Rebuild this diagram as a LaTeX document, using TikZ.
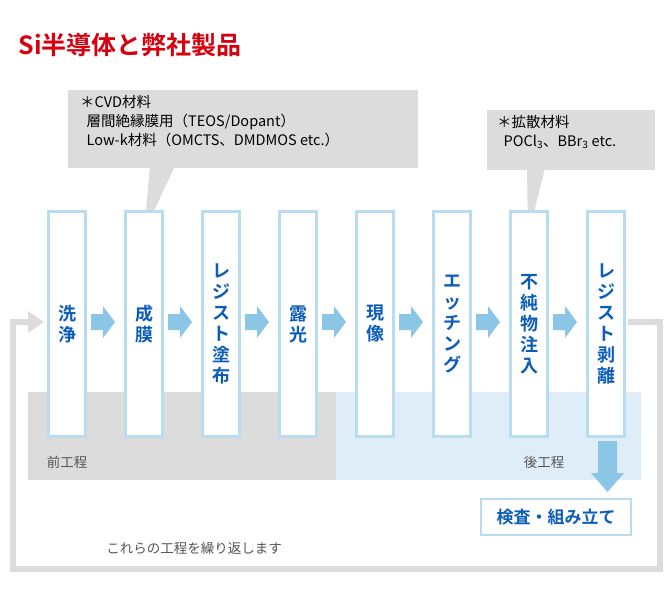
\documentclass[tikz,border=0pt]{standalone}
\usepackage{fontspec}
\setmainfont{Noto Sans CJK JP}
\newfontfamily\jpb{Noto Sans CJK JP Bold}
\definecolor{tred}{HTML}{D7000F}
\definecolor{tblue}{HTML}{0B5DB8}
\definecolor{bedge}{HTML}{B9DCF1}
\definecolor{arr}{HTML}{8CC6E6}
\definecolor{lgray}{HTML}{DCDCDC}
\definecolor{lblue}{HTML}{DFEDF8}
\definecolor{tgray}{HTML}{555555}
\tikzset{stepbox/.style={draw=bedge,line width=2.5pt,fill=white,minimum width=37pt,minimum height=225pt,inner sep=0pt,font=\jpb\fontsize{18}{21}\selectfont,text=tblue,align=center},
calltext/.style={anchor=north west,align=left,font=\fontsize{14.5}{19}\selectfont,inner sep=0pt}}
\newcommand{\flowarrow}[1]{\fill[arr] (#1,314)--(#1+12,314)--(#1+12,306)--(#1+24,322)--(#1+12,338)--(#1+12,330)--(#1,330)--cycle;}
\begin{document}
\begin{tikzpicture}[x=1pt,y=-1pt]
\useasboundingbox (0,0) rectangle (670,603);
\fill[white] (0,0) rectangle (670,603);
\node[anchor=west,font=\jpb\fontsize{25}{26}\selectfont,text=tred] (title) at (15,45) {Si半導体と弊社製品};
% loop
\draw[lgray,line width=6pt] (628,322)--(660,322)--(660,569)--(13,569)--(13,322)--(30,322);
\fill[lgray] (28,311)--(44,322)--(28,333)--cycle;
% backgrounds
\fill[lgray] (28,392) rectangle (336,480);
\fill[lblue] (336,392) rectangle (641,480);
\node[font=\fontsize{13.5}{14}\selectfont,text=tgray] (mae) at (67,462) {前工程};
\node[font=\fontsize{13.5}{14}\selectfont,text=tgray] (ato) at (544,462) {後工程};
% callouts
\fill[lgray] (68,90) rectangle (418,168);
\fill[lgray] (150,166)--(175,166)--(144,232)--cycle;
\node[calltext] (c1) at (80,95) {＊CVD材料\\\ \ 層間絶縁膜用（TEOS/Dopant）\\\ \ Low-k材料（OMCTS、DMDMOS etc.）};
\fill[lgray] (487,110) rectangle (655,170);
\fill[lgray] (527,168)--(545,168)--(528,236)--cycle;
\node[calltext] (c2) at (497,115) {＊拡散材料\\\ \ POCl\textsubscript{3}、BBr\textsubscript{3} etc.};
% steps
\node[stepbox] (s1) at (67,324) {洗\\浄};
\node[stepbox] (s2) at (144,324) {成\\膜};
\node[stepbox] (s3) at (221,324) {レ\\ジ\\ス\\ト\\塗\\布};
\node[stepbox] (s4) at (298,324) {露\\光};
\node[stepbox] (s5) at (375,324) {現\\像};
\node[stepbox] (s6) at (452,324) {エ\\ッ\\チ\\ン\\グ};
\node[stepbox] (s7) at (529,324) {不\\純\\物\\注\\入};
\node[stepbox] (s8) at (606,324) {レ\\ジ\\ス\\ト\\剥\\離};
\foreach \x in {91,168,245,322,399,476,553}{\flowarrow{\x}}
% down arrow
\fill[arr] (598,441)--(617,441)--(617,473)--(624,473)--(607.5,492)--(591,473)--(598,473)--cycle;
\node[draw=bedge,line width=2.5pt,fill=white,minimum width=150pt,minimum height=36pt,font=\jpb\fontsize{17}{18}\selectfont,text=tblue] (kensa) at (556,517) {検査・組み立て};
\node[font=\fontsize{13.5}{14}\selectfont,text=tgray] (rep) at (194,548) {これらの工程を繰り返します};
\end{tikzpicture}
\end{document}
